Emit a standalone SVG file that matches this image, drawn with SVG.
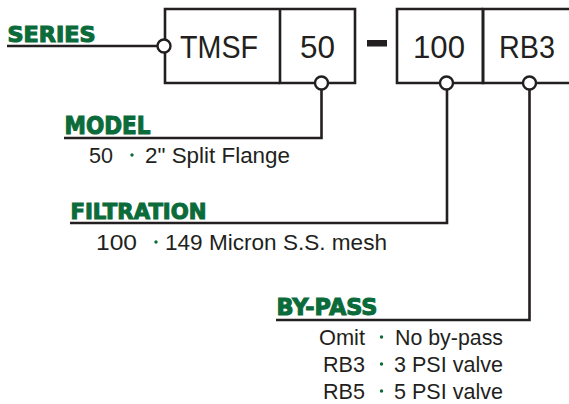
<svg xmlns="http://www.w3.org/2000/svg" width="569" height="404" viewBox="0 0 569 404">
<style>
.ln{fill:none;stroke:#231f20;stroke-width:2.6}
.pin{fill:#fff;stroke:#231f20;stroke-width:2.4}
.lbl{font-family:"DejaVu Sans",sans-serif;font-weight:bold;fill:#0b6b3a;stroke:#0b6b3a;stroke-width:1.1}
.box{font-family:"Liberation Sans",Arial,sans-serif;font-size:31px;fill:#231f20}
.txt{font-family:"Liberation Sans",Arial,sans-serif;font-size:22.5px;fill:#231f20}
.dot{fill:#0b6b3a}
</style>
<rect width="569" height="404" fill="#fff"/>
<g id="connectors">
<polyline class="ln" points="7,46 157,46"/>
<polyline class="ln" points="64,138 321.5,138 321.5,90"/>
<polyline class="ln" points="70,223 447,223 447,90"/>
<polyline class="ln" points="276,320 529.5,320 529.5,90"/>
</g>
<g id="box-series">
<polyline class="ln" points="280,9 165,9 165,83 280,83"/>
<text class="box" x="180" y="57.5" textLength="78" lengthAdjust="spacingAndGlyphs">TMSF</text>
</g>
<g id="box-model">
<polyline class="ln" points="280,9 355,9 355,83 280,83 280,9"/>
<text class="box" x="300" y="57.5" textLength="35" lengthAdjust="spacingAndGlyphs">50</text>
</g>
<g id="dash">
<rect x="367" y="40" width="20" height="6.5" fill="#231f20"/>
</g>
<g id="box-filtration">
<polyline class="ln" points="483,9 397,9 397,83 483,83 483,9"/>
<text class="box" x="413" y="57.5" textLength="52" lengthAdjust="spacingAndGlyphs">100</text>
</g>
<g id="box-bypass">
<polyline class="ln" points="569,9 483,9 483,83 569,83"/>
<text class="box" x="499" y="57.5" textLength="56" lengthAdjust="spacingAndGlyphs">RB3</text>
</g>
<g id="pins">
<circle class="pin" cx="164" cy="46" r="6.5"/>
<circle class="pin" cx="321.5" cy="83" r="6.5"/>
<circle class="pin" cx="446.5" cy="83" r="6.5"/>
<circle class="pin" cx="529.5" cy="83" r="6.5"/>
</g>
<g id="series">
<text class="lbl" x="7.5" y="41.5" font-size="21" textLength="88" lengthAdjust="spacingAndGlyphs">SERIES</text>
</g>
<g id="model">
<text class="lbl" x="64.5" y="133.5" font-size="24" textLength="86" lengthAdjust="spacingAndGlyphs">MODEL</text>
<text class="txt" x="89" y="163" textLength="24" lengthAdjust="spacingAndGlyphs">50</text>
<circle class="dot" cx="132" cy="155" r="1.7"/>
<text class="txt" x="145" y="163" textLength="145" lengthAdjust="spacingAndGlyphs">2" Split Flange</text>
</g>
<g id="filtration">
<text class="lbl" x="70.5" y="219" font-size="22" textLength="136" lengthAdjust="spacingAndGlyphs">FILTRATION</text>
<text class="txt" x="96" y="250" textLength="41" lengthAdjust="spacingAndGlyphs">100</text>
<circle class="dot" cx="156" cy="242" r="1.7"/>
<text class="txt" x="165" y="250" textLength="222" lengthAdjust="spacingAndGlyphs">149 Micron S.S. mesh</text>
</g>
<g id="bypass">
<text class="lbl" x="276.5" y="315" font-size="23" textLength="101" lengthAdjust="spacingAndGlyphs">BY-PASS</text>
<text class="txt" x="319" y="345" textLength="46" lengthAdjust="spacingAndGlyphs">Omit</text>
<circle class="dot" cx="381.5" cy="337" r="1.7"/>
<text class="txt" x="395" y="345" textLength="108" lengthAdjust="spacingAndGlyphs">No by-pass</text>
<text class="txt" x="323" y="372" textLength="42" lengthAdjust="spacingAndGlyphs">RB3</text>
<circle class="dot" cx="381.5" cy="364" r="1.7"/>
<text class="txt" x="394" y="372" textLength="109" lengthAdjust="spacingAndGlyphs">3 PSI valve</text>
<text class="txt" x="323" y="399" textLength="42" lengthAdjust="spacingAndGlyphs">RB5</text>
<circle class="dot" cx="381.5" cy="391" r="1.7"/>
<text class="txt" x="394" y="399" textLength="109" lengthAdjust="spacingAndGlyphs">5 PSI valve</text>
</g>
</svg>
